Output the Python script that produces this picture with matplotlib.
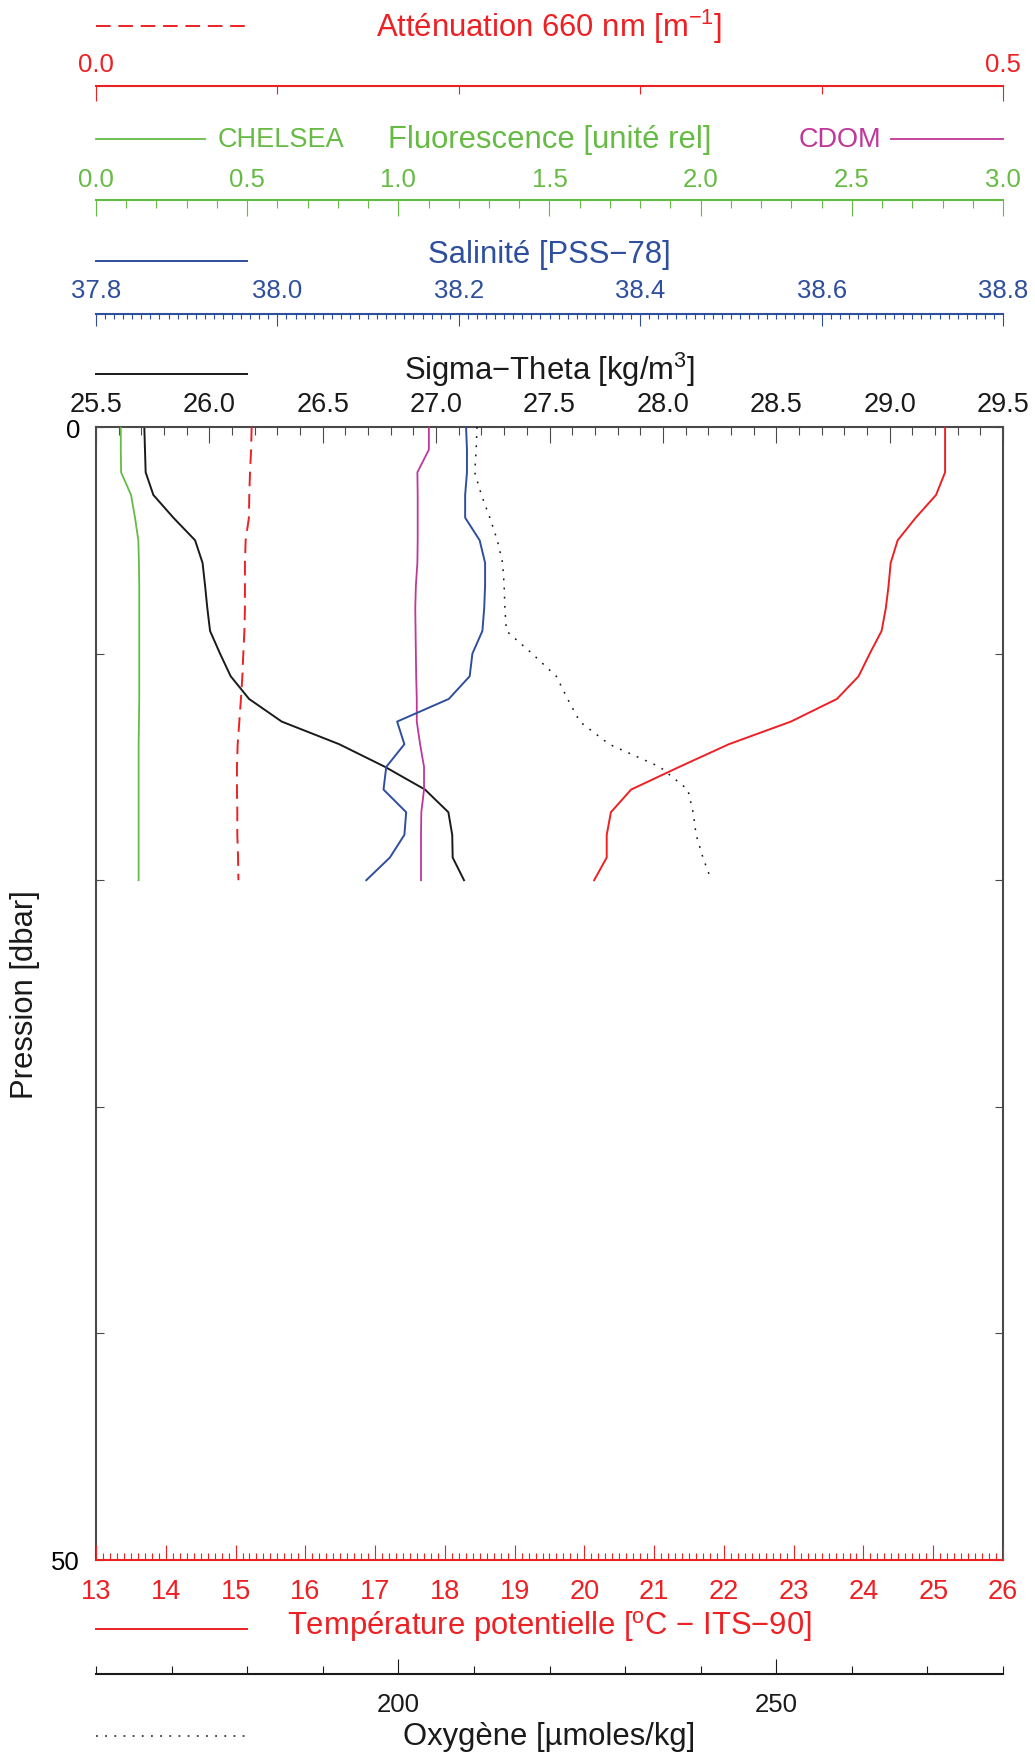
import matplotlib
matplotlib.use("Agg")
import matplotlib.pyplot as plt
from matplotlib.lines import Line2D
from matplotlib.ticker import MultipleLocator, FixedLocator, FormatStrFormatter, NullFormatter, FuncFormatter

plt.rcParams['font.family'] = ['Liberation Sans', 'DejaVu Sans']
plt.rcParams['mathtext.default'] = 'regular'

# profile data, 1 dbar bins
pression = [0, 1, 2, 3, 4, 5, 6, 7, 8, 9, 10, 11, 12, 13, 14, 15, 16, 17, 18, 19, 20]
sigma_theta = [25.713, 25.716, 25.719, 25.753, 25.841, 25.937, 25.970, 25.981, 25.991, 26.003, 26.047,
               26.094, 26.175, 26.319, 26.573, 26.775, 26.951, 27.054, 27.071, 27.073, 27.123]
temperature = [25.17, 25.17, 25.17, 25.04, 24.75, 24.49, 24.39, 24.36, 24.32, 24.26, 24.09,
               23.93, 23.62, 22.96, 22.07, 21.36, 20.67, 20.38, 20.32, 20.32, 20.14]
salinite = [38.208, 38.209, 38.209, 38.207, 38.207, 38.223, 38.229, 38.229, 38.228, 38.226, 38.215,
            38.212, 38.189, 38.132, 38.140, 38.120, 38.117, 38.142, 38.140, 38.124, 38.098]
oxygene = [210.4, 210.3, 210.1, 211.0, 212.1, 213.1, 213.8, 214.0, 214.1, 214.3, 217.7,
           220.9, 222.4, 224.0, 227.9, 234.6, 238.3, 239.0, 239.4, 240.3, 241.4]
attenuation = [0.0858, 0.0855, 0.0849, 0.0845, 0.0843, 0.0825, 0.0821, 0.0821, 0.0821, 0.0818, 0.0812,
               0.0807, 0.0799, 0.0790, 0.0781, 0.0777, 0.0777, 0.0779, 0.0779, 0.0783, 0.0785]
chelsea = [0.082, 0.082, 0.083, 0.116, 0.129, 0.140, 0.142, 0.143, 0.143, 0.143, 0.143,
           0.143, 0.143, 0.142, 0.141, 0.141, 0.141, 0.141, 0.141, 0.141, 0.141]
cdom = [1.101, 1.101, 1.063, 1.064, 1.064, 1.064, 1.063, 1.058, 1.056, 1.057, 1.058,
        1.059, 1.061, 1.061, 1.072, 1.085, 1.085, 1.076, 1.075, 1.075, 1.075]

RED = '#ED2024'
GREEN = '#66BB44'
BLUE = '#2E4E9E'
MAGENTA = '#C0379A'
BLACK = '#1a1a1a'
SPINE = '#4a4a4a'

W, H = 1035, 1758
L, R = 96, 1003
TOP, BOT = 428, 1561
TICK_FS = 18.5
BIG_TICK_FS = 19.5
TITLE_FS = 22.3

fig = plt.figure(figsize=(W / 100, H / 100), dpi=100)


def fx(px):
    return px / W


def fy(py):
    return 1 - py / H


# main axes (sigma-theta on top, pressure on y)
ax = fig.add_axes([fx(L), fy(BOT), fx(R - L), (BOT - TOP) / H])
ax.set_xlim(25.5, 29.5)
ax.set_ylim(50, 0)
ax.plot(sigma_theta, pression, color=BLACK, lw=1.4)


def twin(xlim):
    t = ax.twiny()
    t.set_xlim(*xlim)
    for s in t.spines.values():
        s.set_visible(False)
    t.set_xticks([])
    return t


ax_t = ax.twiny()
ax_t.set_xlim(13, 26)
for s in ('top', 'left', 'right'):
    ax_t.spines[s].set_visible(False)
ax_t.spines['bottom'].set_color(RED)
ax_t.spines['bottom'].set_linewidth(1.5)
ax_t.xaxis.set_ticks_position('bottom')
ax_t.xaxis.set_label_position('bottom')
ax_t.xaxis.set_major_locator(MultipleLocator(1))
ax_t.xaxis.set_minor_locator(MultipleLocator(0.1))
ax_t.xaxis.set_major_formatter(FormatStrFormatter('%d'))
ax_t.tick_params(axis='x', which='both', direction='in', color=RED, width=0.8)
ax_t.tick_params(axis='x', which='major', length=10.8, pad=13, labelsize=BIG_TICK_FS, labelcolor=RED)
ax_t.tick_params(axis='x', which='minor', length=5.0)
ax_t.plot(temperature, pression, color=RED, lw=1.4)

ax_a = twin((0, 0.5))
ax_a.plot(attenuation, pression, color=RED, lw=1.4, ls=(0, (7.5, 4)))
ax_f = twin((0, 3))
ax_f.plot(chelsea, pression, color=GREEN, lw=1.3)
ax_f.plot(cdom, pression, color=MAGENTA, lw=1.3)
ax_s = twin((37.8, 38.8))
ax_s.plot(salinite, pression, color=BLUE, lw=1.4)
ax_o = twin((160, 280))
ax_o.plot(oxygene, pression, color=BLACK, lw=1.1, ls=(0, (1.2, 4.8)))

# configure the main axes after the twins (twiny resets tick side)
ax.spines['bottom'].set_visible(False)
for s in ('top', 'left', 'right'):
    ax.spines[s].set_color(SPINE)
    ax.spines[s].set_linewidth(1.5)
ax.xaxis.set_ticks_position('top')
ax.xaxis.set_major_locator(MultipleLocator(0.5))
ax.xaxis.set_minor_locator(MultipleLocator(0.1))
ax.xaxis.set_major_formatter(FormatStrFormatter('%.1f'))
ax.tick_params(axis='x', which='both', top=True, bottom=False, labeltop=True, labelbottom=False,
               direction='in', color=SPINE, width=0.8)
ax.tick_params(axis='x', which='major', length=11.5, pad=7.0, labelsize=BIG_TICK_FS, labelcolor=BLACK)
ax.tick_params(axis='x', which='minor', length=5.5)
ax.yaxis.set_major_locator(MultipleLocator(10))
ax.yaxis.set_major_formatter(FuncFormatter(lambda v, p: '%d' % v if v in (0, 50) else ''))
ax.tick_params(axis='y', which='major', left=True, right=True, direction='in', length=5.8,
               width=0.8, color=SPINE, pad=11.5, labelsize=TICK_FS)


def scale_bar(y, xlim, color, major, minor, fmt, maj_len, min_len, pad, side='top'):
    b = fig.add_axes([fx(L), fy(y), fx(R - L), 1e-5])
    b.patch.set_visible(False)
    b.set_xlim(*xlim)
    b.set_yticks([])
    for s in b.spines:
        b.spines[s].set_visible(s == side)
    b.spines[side].set_color(color)
    b.spines[side].set_linewidth(1.5)
    b.xaxis.set_ticks_position(side)
    b.xaxis.set_major_locator(major)
    b.xaxis.set_minor_locator(minor)
    b.xaxis.set_major_formatter(fmt)
    b.xaxis.set_minor_formatter(NullFormatter())
    b.tick_params(axis='x', which='both', direction='in', color=color, width=0.8)
    b.tick_params(axis='x', which='major', length=maj_len, pad=pad, labelsize=TICK_FS, labelcolor=color)
    b.tick_params(axis='x', which='minor', length=min_len)
    return b


scale_bar(87, (0, 0.5), RED, FixedLocator([0, 0.5]), MultipleLocator(0.1),
          FormatStrFormatter('%.1f'), 10.8, 5.8, 7.5)
scale_bar(201, (0, 3), GREEN, MultipleLocator(0.5), MultipleLocator(0.1),
          FormatStrFormatter('%.1f'), 11.5, 5.8, 6.8)
scale_bar(315, (37.8, 38.8), BLUE, MultipleLocator(0.2), MultipleLocator(0.01),
          FormatStrFormatter('%.1f'), 8.4, 3.6, 8.6)
scale_bar(1675, (160, 280), BLACK, FixedLocator([200, 250]), MultipleLocator(10),
          FormatStrFormatter('%d'), 10.8, 6.0, 13, side='bottom')

# titles and legend samples
cx = fx((L + R) / 2)


def sample(y, x0, x1, color, **kw):
    fig.add_artist(Line2D([fx(x0), fx(x1)], [fy(y), fy(y)], color=color, transform=fig.transFigure, **kw))


fig.text(cx, fy(27), 'Atténuation 660 nm [m$^{-1}$]', color=RED, fontsize=TITLE_FS, ha='center', va='center')
sample(27, 96, 247, RED, lw=1.4, ls=(0, (7.5, 4)))

fig.text(cx, fy(140), 'Fluorescence [unité rel]', color=GREEN, fontsize=TITLE_FS, ha='center', va='center')
fig.text(fx(218), fy(140), 'CHELSEA', color=GREEN, fontsize=19.5, ha='left', va='center')
sample(140, 96, 205, GREEN, lw=1.3)
fig.text(fx(881), fy(140), 'CDOM', color=MAGENTA, fontsize=19.5, ha='right', va='center')
sample(140, 891, 1003, MAGENTA, lw=1.3)

fig.text(cx, fy(255), 'Salinité [PSS−78]', color=BLUE, fontsize=TITLE_FS, ha='center', va='center')
sample(262, 96, 247, BLUE, lw=1.4)

fig.text(cx, fy(370), 'Sigma−Theta [kg/m$^3$]', color=BLACK, fontsize=TITLE_FS, ha='center', va='center')
sample(375, 96, 247, BLACK, lw=1.4)

fig.text(cx, fy(1627), 'Température potentielle [$^o$C − ITS−90]', color=RED, fontsize=TITLE_FS,
         ha='center', va='center')
sample(1630, 96, 247, RED, lw=1.4)

fig.text(cx, fy(1737), 'Oxygène [µmoles/kg]', color=BLACK, fontsize=TITLE_FS, ha='center', va='center')
sample(1737, 96, 247, BLACK, lw=1.1, ls=(0, (1.2, 4.8)))

fig.text(fx(25), fy((TOP + BOT) / 2), 'Pression [dbar]', color=BLACK, fontsize=TITLE_FS,
         rotation=90, ha='center', va='center')

fig.savefig('out.png', dpi=100)
